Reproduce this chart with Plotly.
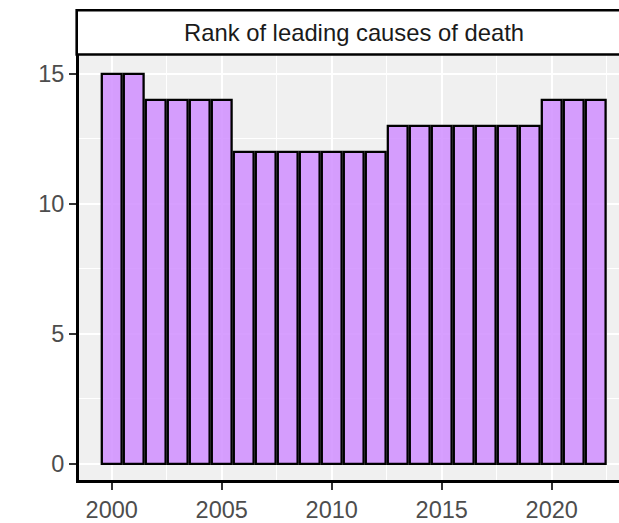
import plotly.graph_objects as go

# Data
years = list(range(2000, 2023))
ranks = [15, 15, 14, 14, 14, 14, 12, 12, 12, 12, 12, 12, 12,
         13, 13, 13, 13, 13, 13, 13, 14, 14, 14]
strip_title = "Rank of leading causes of death"
x_ticks = [2000, 2005, 2010, 2015, 2020]
y_ticks = [0, 5, 10, 15]

W, H = 619, 523
L, R, T, B = 79, 0, 54, 36
plot_w = W - L - R
plot_h = H - T - B
px_per_year = 22.0
x0 = 2000 + (L - 111.7) / px_per_year
x1 = x0 + plot_w / px_per_year
px_per_unit = 26.43
y_bottom = -(487.0 - 470.7) / px_per_unit
y_top = (470.7 - T) / px_per_unit

font_family = "Liberation Sans, Arial, Helvetica, sans-serif"

fig = go.Figure()
fig.add_trace(go.Bar(
    x=years, y=ranks, width=0.9,
    marker=dict(color="rgba(208,142,255,0.85)",
                line=dict(color="black", width=2.3)),
    showlegend=False, hoverinfo="skip",
))

axis_common = dict(
    showline=True, linecolor="black", linewidth=3,
    ticks="outside", ticklen=7, tickwidth=2, tickcolor="#333333",
    tickfont=dict(family=font_family, size=23.5, color="#4D4D4D"),
    showgrid=True, gridcolor="white", gridwidth=2,
    zeroline=False, fixedrange=True,
)

fig.update_xaxes(range=[x0, x1], tickvals=x_ticks,
                 minor=dict(tickvals=[1997.5 + 5 * i for i in range(7)],
                            showgrid=True, gridcolor="white", gridwidth=1,
                            ticks=""),
                 **axis_common)
fig.update_yaxes(range=[y_bottom, y_top], tickvals=y_ticks,
                 minor=dict(tickvals=[2.5, 7.5, 12.5],
                            showgrid=True, gridcolor="white", gridwidth=1,
                            ticks=""),
                 **axis_common)

strip_bottom_px = 54.5
strip_top_px = 9.5
fig.add_shape(type="rect", xref="paper", yref="paper",
              x0=(76.7 - L) / plot_w, x1=1.2,
              y0=1 + (T - strip_bottom_px) / plot_h,
              y1=1 + (T - strip_top_px) / plot_h,
              line=dict(color="black", width=2.6), fillcolor="white",
              layer="above")
fig.add_annotation(text=strip_title, xref="x", yref="paper",
                   x=2011.0, y=1 + (T - 31.75) / plot_h,
                   xanchor="center", yanchor="middle", showarrow=False,
                   font=dict(family=font_family, size=23.8, color="#1A1A1A"))

fig.update_layout(
    width=W, height=H,
    margin=dict(l=L, r=R, t=T, b=B, pad=0),
    paper_bgcolor="white", plot_bgcolor="#F0F0F0",
    font=dict(family=font_family),
    hovermode=False,
)

fig.write_html(
    "out.html",
    config={"displayModeBar": False, "staticPlot": True},
    post_script="document.body.style.margin='0';"
                "document.body.style.overflow='hidden';"
                "document.documentElement.style.overflow='hidden';",
)
